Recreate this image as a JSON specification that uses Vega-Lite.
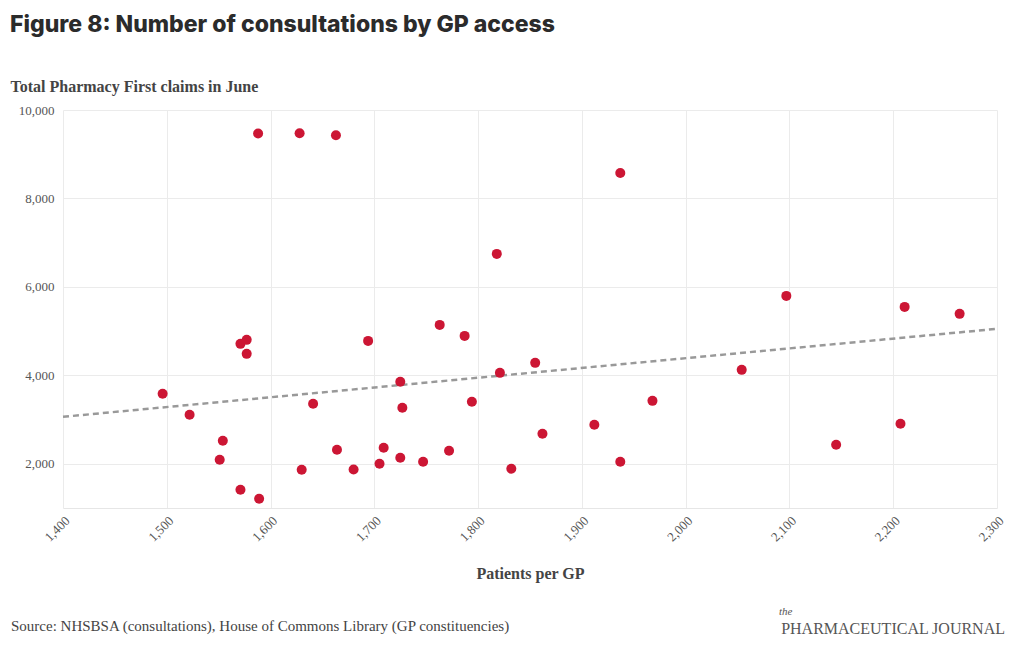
{
  "$schema": "https://vega.github.io/schema/vega-lite/v6.json",
  "background": "white",
  "padding": {"left": 10, "top": 14, "right": 16, "bottom": 10},
  "title": {
    "text": "Figure 8: Number of consultations by GP access",
    "anchor": "start",
    "font": "Inter",
    "fontSize": 23,
    "fontWeight": 800,
    "color": "#2b2b2b",
    "offset": 41
  },
  "config": {
    "view": {"stroke": null},
    "axis": {
      "labelFont": "Liberation Serif",
      "labelFontSize": 13,
      "labelColor": "#555555",
      "titleFont": "Liberation Serif",
      "titleFontSize": 16,
      "titleFontWeight": "bold",
      "titleColor": "#444444",
      "gridColor": "#ebebeb",
      "ticks": false,
      "domain": false
    }
  },
  "spacing": 24,
  "vconcat": [
    {
      "width": 934,
      "height": 398,
      "layer": [
        {
          "data": {"name": "trend", "values": [
            {"gp": 1400, "claims": 3062},
            {"gp": 2300, "claims": 5051}
          ]},
          "mark": {"type": "line", "color": "#999999", "strokeWidth": 2.5, "strokeDash": [6, 4]},
          "encoding": {
            "x": {"field": "gp", "type": "quantitative"},
            "y": {"field": "claims", "type": "quantitative"}
          }
        },
        {
          "data": {"name": "points", "values": [
            {"gp": 1496, "claims": 3582},
            {"gp": 1522, "claims": 3107},
            {"gp": 1554, "claims": 2519},
            {"gp": 1551, "claims": 2090},
            {"gp": 1571, "claims": 1412},
            {"gp": 1589, "claims": 1209},
            {"gp": 1588, "claims": 9470},
            {"gp": 1628, "claims": 9475},
            {"gp": 1663, "claims": 9430},
            {"gp": 1571, "claims": 4712},
            {"gp": 1577, "claims": 4802},
            {"gp": 1577, "claims": 4486},
            {"gp": 1630, "claims": 1864},
            {"gp": 1641, "claims": 3356},
            {"gp": 1664, "claims": 2316},
            {"gp": 1680, "claims": 1870},
            {"gp": 1694, "claims": 4779},
            {"gp": 1705, "claims": 2000},
            {"gp": 1709, "claims": 2361},
            {"gp": 1725, "claims": 3853},
            {"gp": 1725, "claims": 2135},
            {"gp": 1727, "claims": 3265},
            {"gp": 1747, "claims": 2045},
            {"gp": 1763, "claims": 5141},
            {"gp": 1772, "claims": 2293},
            {"gp": 1787, "claims": 4892},
            {"gp": 1794, "claims": 3401},
            {"gp": 1821, "claims": 4056},
            {"gp": 1818, "claims": 6746},
            {"gp": 1832, "claims": 1887},
            {"gp": 1855, "claims": 4282},
            {"gp": 1862, "claims": 2678},
            {"gp": 1912, "claims": 2881},
            {"gp": 1937, "claims": 8576},
            {"gp": 1937, "claims": 2045},
            {"gp": 1968, "claims": 3423},
            {"gp": 2054, "claims": 4124},
            {"gp": 2097, "claims": 5796},
            {"gp": 2145, "claims": 2429},
            {"gp": 2207, "claims": 2904},
            {"gp": 2211, "claims": 5548},
            {"gp": 2264, "claims": 5390}
          ]},
          "mark": {"type": "circle", "color": "#cc1634", "opacity": 1, "size": 100},
          "encoding": {
            "x": {
              "field": "gp", "type": "quantitative",
              "scale": {"domain": [1400, 2300], "nice": false, "zero": false},
              "axis": {
                "title": "Patients per GP",
                "values": [1400, 1500, 1600, 1700, 1800, 1900, 2000, 2100, 2200, 2300],
                "format": ",.0f",
                "labelAngle": -45,
                "labelPadding": 6,
                "titlePadding": 22,
                "domain": true,
                "domainColor": "#e6e6e6"
              }
            },
            "y": {
              "field": "claims", "type": "quantitative",
              "scale": {"domain": [1000, 10000], "nice": false, "zero": false},
              "axis": {
                "title": "Total Pharmacy First claims in June",
                "values": [2000, 4000, 6000, 8000, 10000],
                "format": ",.0f",
                "labelPadding": 9,
                "titleAngle": 0,
                "titleAlign": "left",
                "titleBaseline": "middle",
                "titleX": -53,
                "titleY": -24
              }
            }
          }
        }
      ]
    },
    {
      "width": 934,
      "height": 24,
      "data": {"name": "footer", "values": [
        {"text": "Source: NHSBSA (consultations), House of Commons Library (GP constituencies)", "side": "left", "line": "bottom", "kind": "source"},
        {"text": "PHARMACEUTICAL JOURNAL", "side": "right", "line": "bottom", "kind": "logo"},
        {"text": "the", "side": "right", "line": "top", "kind": "the"}
      ]},
      "encoding": {
        "x": {"field": "side", "type": "nominal", "scale": {"type": "point", "domain": ["left", "right"], "range": [-52, 942], "padding": 0}, "axis": null},
        "y": {"field": "line", "type": "nominal", "scale": {"type": "point", "domain": ["top", "bottom"], "range": [0, 14], "padding": 0}, "axis": null},
        "text": {"field": "text"}
      },
      "layer": [
        {
          "transform": [{"filter": "datum.kind === 'source'"}],
          "mark": {"type": "text", "align": "left", "baseline": "middle", "font": "Liberation Serif", "fontSize": 15, "color": "#444444"}
        },
        {
          "transform": [{"filter": "datum.kind === 'logo'"}],
          "mark": {"type": "text", "align": "right", "baseline": "middle", "dy": 3, "font": "Liberation Serif", "fontSize": 16, "color": "#555555"}
        },
        {
          "transform": [{"filter": "datum.kind === 'the'"}],
          "mark": {"type": "text", "align": "left", "baseline": "middle", "dx": -226, "font": "Liberation Serif", "fontStyle": "italic", "fontSize": 11, "color": "#555555"}
        }
      ]
    }
  ]
}
